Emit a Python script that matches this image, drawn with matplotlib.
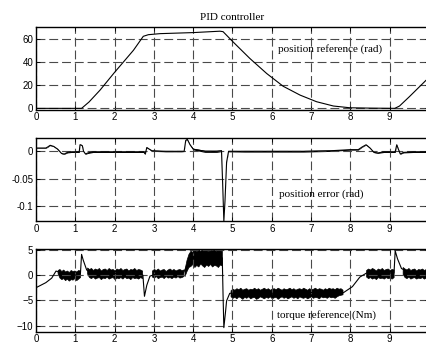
import matplotlib
matplotlib.use('Agg')
import matplotlib.pyplot as plt
import numpy as np

# position reference (rad)
ref_t = [0, 1.16, 1.35, 1.63, 1.99, 2.48, 2.73, 2.86, 3.16, 4.0, 4.68, 4.76,
         5.02, 5.44, 5.87, 6.29, 6.72, 7.14, 7.57, 7.99, 8.5, 9.13, 9.25, 9.5, 9.92]
ref_v = [0, 0, 5.5, 15.7, 30.6, 50, 62, 63.4, 64.3, 65.2, 66.4, 66.0,
         57, 43, 30, 19, 11.4, 5.7, 2.0, 0.5, 0.2, 0, 2, 10, 24]

# position error (rad): centre line and noise half-width
err_t = [0, 0.25, 0.3, 0.36, 0.45, 0.55, 0.65, 0.72, 0.8, 0.9, 1.1, 1.12, 1.14,
         1.18, 1.21, 1.26, 1.32, 1.45, 1.8, 2.2, 2.6, 2.74, 2.78, 2.82, 2.86,
         2.95, 3.3, 3.7, 3.77, 3.81, 3.85, 3.92, 4.0, 4.3, 4.6, 4.72, 4.75,
         4.78, 4.81, 4.85, 4.9, 5.3, 6.0, 6.8, 7.5, 8.0, 8.2, 8.3, 8.4, 8.5,
         8.6, 8.7, 8.85, 9.14, 9.18, 9.22, 9.27, 9.35, 9.6, 9.92]
err_v = [0.006, 0.006, 0.008, 0.011, 0.009, 0.004, -0.004, -0.005, -0.002,
         -0.001, -0.001, 0.012, 0.012, 0.010, 0.0, -0.005, -0.003, -0.001,
         -0.001, -0.001, -0.001, -0.001, -0.005, 0.007, 0.005, 0.001, 0.0,
         0.0, 0.0, 0.020, 0.022, 0.012, 0.004, 0.0, 0.0, 0.001, -0.06,
         -0.128, -0.09, -0.02, 0.0, 0.0, 0.0, 0.0, 0.001, 0.003, 0.003, 0.008,
         0.012, 0.006, -0.002, -0.003, -0.001, -0.001, 0.012, 0.004, -0.005,
         -0.002, -0.001, -0.001]
err_spread = [0.0005, 0.0005, 0.0005, 0.0005, 0.0005, 0.0005, 0.0005, 0.0005,
              0.001, 0.0012, 0.0012, 0.0005, 0.0005, 0.0005, 0.0005, 0.0005,
              0.001, 0.0012, 0.0012, 0.0012, 0.0012, 0.0012, 0.0005, 0.0005,
              0.0005, 0.001, 0.001, 0.001, 0.0005, 0.0005, 0.0005, 0.0005,
              0.0015, 0.002, 0.002, 0.0015, 0.0005, 0.0005, 0.0005, 0.0005,
              0.001, 0.0015, 0.0015, 0.0015, 0.0012, 0.0008, 0.0008, 0.0005,
              0.0005, 0.0005, 0.0005, 0.0008, 0.0012, 0.0012, 0.0005, 0.0005,
              0.0005, 0.001, 0.0012, 0.0012]

# torque reference (Nm): centre line
trq_t = [0, 0.25, 0.4, 0.51, 0.7, 1.0, 1.13, 1.16, 1.2, 1.29, 1.4, 1.8, 2.2,
         2.6, 2.72, 2.76, 2.82, 2.9, 3.1, 3.4, 3.75, 3.85, 3.95, 4.2, 4.5,
         4.74, 4.76, 4.78, 4.82, 4.85, 4.93, 5.3, 6.0, 6.7, 7.4, 7.82, 8.05,
         8.24, 8.41, 8.8, 9.11, 9.14, 9.2, 9.3, 9.5, 9.92]
trq_v = [-2.5, -1.5, -0.6, 0.8, 0.2, 0.0, 0.2, 4.1, 3.0, 1.0, 0.4, 0.3, 0.3,
         0.3, 0.0, -4.2, -2.0, -0.2, 0.3, 0.4, 0.4, 2.0, 3.4, 3.5, 3.4,
         3.4, -4.0, -10.4, -7.5, -5.1, -3.6, -3.6, -3.6, -3.5, -3.4, -3.5,
         -2.3, -0.4, 0.4, 0.4, 0.4, 4.8, 3.2, 1.3, 0.5, 0.4]

# torque reference noise band: (start, end, upper edge, lower edge)
trq_noise = [
    (0.55, 1.12,
     [1.0, 1.2, 0.8, 1.1, 0.7, 0.9, 0.6, 1.0, 0.8, 0.9, 0.7, 1.0, 0.9],
     [0.3, -0.5, -0.8, -0.6, -1.0, -0.7, -1.1, -0.8, -0.9, -0.6, -1.0, -0.7, -0.4]),
    (1.30, 2.70,
     [1.5, 1.2, 1.4, 1.0, 1.3, 1.1, 1.4, 0.9, 1.2, 1.3, 1.0, 1.4, 1.1, 1.2, 0.9,
      1.3, 1.1, 1.4, 1.0, 1.2, 1.3, 0.9, 1.2, 1.1, 1.4, 1.0, 1.2, 1.1, 0.9],
     [0.3, -0.4, -0.6, -0.3, -0.7, -0.5, -0.4, -0.8, -0.5, -0.6, -0.3, -0.7, -0.5, -0.4, -0.8,
      -0.5, -0.6, -0.4, -0.7, -0.3, -0.6, -0.5, -0.8, -0.4, -0.6, -0.5, -0.7, -0.4, -0.6]),
    (2.95, 3.75,
     [0.9, 1.2, 1.0, 1.3, 0.9, 1.1, 1.2, 0.8, 1.1, 1.3, 1.0, 1.2, 0.9, 1.1, 1.2, 1.0, 1.1],
     [-0.3, -0.5, -0.2, -0.6, -0.4, -0.3, -0.6, -0.2, -0.5, -0.4, -0.6, -0.3, -0.5, -0.2,
      -0.5, -0.4, -0.2]),
    (3.78, 4.73,
     [1.2, 3.0, 4.2, 4.8, 4.6, 5.0, 4.7, 5.1, 4.8, 5.1, 4.9, 5.0, 4.7, 5.1, 4.9, 5.0,
      4.8, 5.1, 4.9, 4.8],
     [-0.2, 0.8, 1.6, 1.8, 2.2, 1.6, 2.0, 1.7, 2.3, 1.9, 1.6, 2.1, 1.8, 2.2, 1.7, 2.0,
      1.9, 1.6, 2.1, 1.9]),
    (4.95, 7.80,
     [-3.0, -2.7, -2.9, -2.6, -2.8, -2.5, -2.9, -2.7, -2.6, -2.9,
      -2.7, -2.8, -2.5, -2.8, -2.6, -2.9, -2.7, -2.5, -2.8, -2.6,
      -2.9, -2.7, -2.6, -2.8, -2.5, -2.7, -2.9, -2.6, -2.8, -2.7,
      -2.5, -2.8, -2.6, -2.9, -2.7, -2.6, -2.8, -2.5, -2.7, -2.9,
      -2.6, -2.8, -2.7, -2.5, -2.8, -2.6, -2.7, -2.9, -2.6, -2.8,
      -2.5, -2.7, -2.6, -2.8, -2.5, -2.7, -2.6, -2.9],
     [-4.2, -4.5, -4.3, -4.6, -4.2, -4.4, -4.7, -4.3, -4.5, -4.2,
      -4.6, -4.4, -4.3, -4.7, -4.5, -4.2, -4.4, -4.6, -4.3, -4.5,
      -4.2, -4.6, -4.4, -4.3, -4.7, -4.4, -4.2, -4.5, -4.3, -4.6,
      -4.4, -4.2, -4.5, -4.3, -4.6, -4.2, -4.4, -4.5, -4.3, -4.6,
      -4.4, -4.2, -4.5, -4.3, -4.4, -4.6, -4.2, -4.4, -4.3, -4.5,
      -4.2, -4.4, -4.3, -4.5, -4.2, -4.0, -3.9, -3.8]),
    (8.40, 9.10,
     [1.0, 1.3, 1.1, 1.4, 1.2, 0.9, 1.3, 1.1, 1.4, 1.0, 1.2, 1.3, 1.0, 1.2, 1.1],
     [-0.3, -0.6, -0.4, -0.7, -0.5, -0.8, -0.4, -0.6, -0.5, -0.7, -0.4, -0.6, -0.5, -0.7, -0.4]),
    (9.33, 9.92,
     [1.6, 1.3, 1.1, 1.4, 1.0, 1.2, 1.3, 0.9, 1.2, 1.1, 1.3, 1.0, 1.2],
     [0.2, -0.4, -0.6, -0.3, -0.7, -0.5, -0.4, -0.7, -0.5, -0.6, -0.4, -0.7, -0.5]),
]

xticks = [0, 1, 2, 3, 4, 5, 6, 7, 8, 9]
tick_font = {'family': 'Liberation Sans', 'size': 7}
text_font = {'family': 'Liberation Serif', 'size': 8}

fig = plt.figure(figsize=(4.26, 3.49), dpi=100)
ax1 = fig.add_axes([0.0845, 0.6862, 0.9225, 0.2364])
ax2 = fig.add_axes([0.0845, 0.3668, 0.9225, 0.2387])
ax3 = fig.add_axes([0.0845, 0.0496, 0.9225, 0.2361])

ax1.plot(ref_t, ref_v, color='black', lw=0.8)

lo = [v - s for v, s in zip(err_v, err_spread)]
hi = [v + s for v, s in zip(err_v, err_spread)]
ax2.fill_between(err_t, lo, hi, color='black', lw=0)
ax2.plot(err_t, err_v, color='black', lw=0.8)

ax3.plot(trq_t, trq_v, color='black', lw=0.8)
for start, end, upper, lower in trq_noise:
    tt = np.linspace(start, end, len(upper))
    ax3.fill_between(tt, lower, upper, color='black', lw=0.5, edgecolor='black')

ax1.set_ylim(-1, 70)
ax1.set_yticks([0, 20, 40, 60])
ax2.set_ylim(-0.128, 0.025)
ax2.set_yticks([-0.1, -0.05, 0])
ax2.set_yticklabels(['-0.1', '-0.05', '0'])
ax3.set_ylim(-11.2, 5.1)
ax3.set_yticks([-10, -5, 0, 5])

for ax in (ax1, ax2, ax3):
    ax.set_xlim(0, 10)
    ax.set_xticks(xticks)
    ax.grid(True, color='#4a4a4a', lw=0.8, linestyle=(0, (8, 3.5)))
    ax.tick_params(direction='in', length=3, width=0.6, top=True, right=True, pad=2)
    for lab in ax.get_xticklabels() + ax.get_yticklabels():
        lab.set_fontfamily(tick_font['family'])
        lab.set_fontsize(tick_font['size'])
    for sp in ax.spines.values():
        sp.set_linewidth(1.0)

ax1.set_title('PID controller', fontdict=text_font, pad=5)
ax1.text(6.16, 51.4, 'position reference (rad)', fontdict=text_font, va='center')
ax2.text(6.18, -0.0796, 'position error (rad)', fontdict=text_font, va='center')
ax3.text(6.13, -7.9, 'torque reference (Nm)', fontdict=text_font, va='center')

fig.savefig('out.png', dpi=100)
